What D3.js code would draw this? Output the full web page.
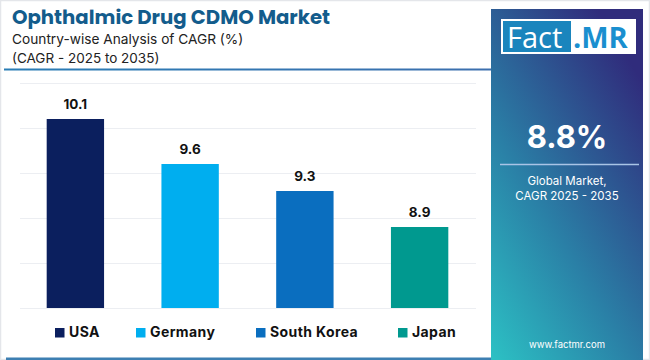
<!DOCTYPE html>
<html><head><meta charset="utf-8">
<script src="https://cdn.jsdelivr.net/npm/d3@7"></script>
<style>html,body{margin:0;padding:0;background:#fff;}svg{display:block;}</style>
</head><body>
<script>
const categories = ["USA", "Germany", "South Korea", "Japan"];
const values = [10.1, 9.6, 9.3, 8.9];
const colors = ["#0b1f5e", "#00aeef", "#0a6ebf", "#00998f"];
const yTicks = [8, 8.5, 9, 9.5, 10, 10.5];
const titleText = "Ophthalmic Drug CDMO Market";
const subtitle1 = "Country-wise Analysis of CAGR (%)";
const subtitle2 = "(CAGR - 2025 to 2035)";
const globalValue = "8.8%";
const globalLabel = ["Global Market,", "CAGR 2025 - 2035"];

const W = 650, H = 360;
const svg = d3.select("body").append("svg").attr("width", W).attr("height", H);
const defs = svg.append("defs");

// frame
svg.append("rect").attr("x", 0).attr("y", 0).attr("width", W).attr("height", H).attr("fill", "#fff");
svg.append("rect").attr("x", 0.5).attr("y", 0.5).attr("width", W - 1).attr("height", H - 1)
  .attr("fill", "none").attr("stroke", "#e4e6ea").attr("stroke-width", 1.5);

// header line
const hl = defs.append("linearGradient").attr("id", "hl").attr("x1", "0%").attr("x2", "100%");
hl.append("stop").attr("offset", "0%").attr("stop-color", "#2a7db5");
hl.append("stop").attr("offset", "100%").attr("stop-color", "#3c6fae");
svg.append("rect").attr("x", 4).attr("y", 68.5).attr("width", 488).attr("height", 2).attr("fill", "url(#hl)");
svg.append("rect").attr("x", 6).attr("y", 357.5).attr("width", 486).attr("height", 2.5).attr("fill", "#3d7fb2");

// titles
svg.append("text").attr("x", 12).attr("y", 24).text(titleText)
  .attr("font-family", "Poppins, Inter, sans-serif").attr("font-weight", 700).attr("font-size", 19.7)
  .attr("fill", "#135c8c");
svg.append("text").attr("x", 12).attr("y", 44).text(subtitle1)
  .attr("font-family", "Inter, sans-serif").attr("font-size", 13.7).attr("fill", "#222");
svg.append("text").attr("x", 12).attr("y", 63).text(subtitle2)
  .attr("font-family", "Inter, sans-serif").attr("font-size", 13.5).attr("fill", "#222");

// chart
const x = d3.scaleBand().domain(categories).range([18, 477]).paddingInner(0.5).paddingOuter(0.25);
const y = d3.scaleLinear().domain([8, 10.5]).range([308, 83]);

const grid = svg.append("g");
grid.selectAll("line").data(yTicks).join("line")
  .attr("x1", 20).attr("x2", 476)
  .attr("y1", d => Math.round(y(d)) + 0.5).attr("y2", d => Math.round(y(d)) + 0.5)
  .attr("stroke", "#eceef2").attr("stroke-width", 1);

svg.append("g").selectAll("rect").data(categories).join("rect")
  .attr("x", d => x(d)).attr("width", x.bandwidth())
  .attr("y", (d, i) => y(values[i])).attr("height", (d, i) => y(8) - y(values[i]))
  .attr("fill", (d, i) => colors[i]);

svg.append("g").selectAll("text").data(categories).join("text")
  .attr("x", d => x(d) + x.bandwidth() / 2)
  .attr("y", (d, i) => y(values[i]) - 10)
  .attr("text-anchor", "middle")
  .attr("font-family", "Inter, sans-serif").attr("font-weight", 700).attr("font-size", 13.5)
  .attr("fill", "#111")
  .text((d, i) => values[i].toFixed(1));

// legend
const legX = [55, 136, 256, 398];
const leg = svg.append("g");
categories.forEach((c, i) => {
  leg.append("rect").attr("x", legX[i]).attr("y", 328).attr("width", 9.5).attr("height", 9.5).attr("fill", colors[i]);
  leg.append("text").attr("x", legX[i] + 14).attr("y", 337)
    .attr("font-family", "Inter, sans-serif").attr("font-weight", 700).attr("font-size", 14)
    .attr("letter-spacing", 0.4)
    .attr("fill", "#111").text(c);
});

// right panel
const pg = defs.append("linearGradient").attr("id", "pg")
  .attr("x1", "0%").attr("y1", "100%").attr("x2", "70%").attr("y2", "0%");
pg.append("stop").attr("offset", "0%").attr("stop-color", "#2cc1c4");
pg.append("stop").attr("offset", "45%").attr("stop-color", "#2a7fa6");
pg.append("stop").attr("offset", "100%").attr("stop-color", "#302c7c");
svg.append("rect").attr("x", 491).attr("y", 9).attr("width", 152).attr("height", 351).attr("fill", "url(#pg)");

// logo
svg.append("rect").attr("x", 501).attr("y", 19).attr("width", 135).attr("height", 35).attr("fill", "#fff");
svg.append("rect").attr("x", 503).attr("y", 21).attr("width", 68).attr("height", 31).attr("fill", "#1a85bd");
svg.append("text").attr("x", 507).attr("y", 48).text("Fact")
  .attr("font-family", "Open Sans, sans-serif").attr("font-size", 29).attr("fill", "#fff");
svg.append("text").attr("x", 573).attr("y", 48).text(".MR")
  .attr("font-family", "Open Sans, sans-serif").attr("font-weight", 700).attr("font-size", 29).attr("fill", "#1a8fcf");

svg.append("text").attr("x", 567).attr("y", 148).attr("text-anchor", "middle").text(globalValue)
  .attr("font-family", "Inter, sans-serif").attr("font-weight", 700).attr("font-size", 31).attr("fill", "#fff");
svg.append("line").attr("x1", 500).attr("x2", 639).attr("y1", 164.5).attr("y2", 164.5)
  .attr("stroke", "#a9c4e6").attr("stroke-width", 1.5);
globalLabel.forEach((t, i) => {
  svg.append("text").attr("x", 567).attr("y", 185 + i * 15).attr("text-anchor", "middle").text(t)
    .attr("font-family", "Inter, sans-serif").attr("font-size", 11.5).attr("fill", "#fff");
});
svg.append("text").attr("x", 567).attr("y", 348).attr("text-anchor", "middle").text("www.factmr.com")
  .attr("font-family", "Inter, sans-serif").attr("font-size", 9.5).attr("fill", "#fff");
</script>
</body></html>
